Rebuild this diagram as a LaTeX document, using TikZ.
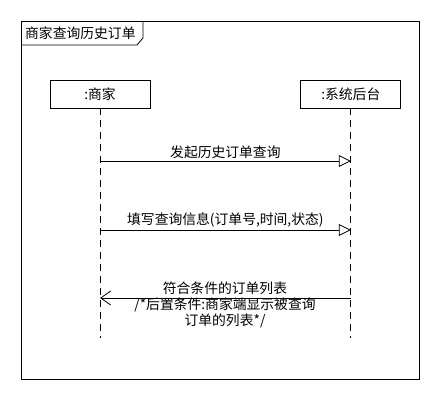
\documentclass[tikz,border=0pt]{standalone}
\usepackage{fontspec}
\setmainfont{Noto Sans CJK SC}
\usetikzlibrary{arrows.meta,positioning}

\begin{document}
\begin{tikzpicture}[x=1pt, y=-1pt,
        font=\fontsize{13.8}{16}\selectfont,
        head/.style={draw, line width=0.8pt, minimum width=100pt, minimum height=28pt, inner sep=0pt},
        lifeline/.style={line width=0.8pt, dash pattern=on 7pt off 5pt},
        call/.style={line width=0.8pt, -{Triangle[open, length=12pt, width=12pt, fill=white]}},
        reply/.style={line width=0.8pt, -{Straight Barb[length=10pt, width=14pt]}},
        msg/.style={align=center, inner sep=1pt}
    ]
        \useasboundingbox (0,0) rectangle (440,400);

        % frame and title tab
        \draw[line width=0.8pt] (21,21) rectangle (419,379);
        \node[anchor=west, inner sep=0pt] (title) at (25,33) {商家查询历史订单};
        \draw[line width=0.8pt] (21,45) -- (137,45) -- (143,38) -- (143,21);

        % lifelines
        \node[head] (shop) at (100,94) {:商家};
        \node[head, right=150pt of shop] (backend) {:系统后台};
        \coordinate (shopEnd) at (shop |- 0,338);
        \coordinate (backendEnd) at (backend |- 0,338);
        \draw[lifeline] (shop) -- (shopEnd);
        \draw[lifeline] (backend) -- (backendEnd);

        % messages
        \coordinate (m1s) at (shop |- 0,161);
        \coordinate (m1e) at (backend |- 0,161);
        \coordinate (m2s) at (shop |- 0,230);
        \coordinate (m2e) at (backend |- 0,230);
        \coordinate (m3s) at (backend |- 0,298);
        \coordinate (m3e) at (shop |- 0,298);

        \draw[call] (m1s) -- node[msg, above=1pt] (m1) {发起历史订单查询} (m1e);
        \draw[call] (m2s) -- node[msg, above=1pt] (m2) {填写查询信息(订单号,时间,状态)} (m2e);
        \draw[reply] (m3s) -- (m3e);
        \node[msg, anchor=north] (m3) at (225,281) {符合条件的订单列表\\/*后置条件:商家端显示被查询\\订单的列表*/};
    \end{tikzpicture}
\end{document}
